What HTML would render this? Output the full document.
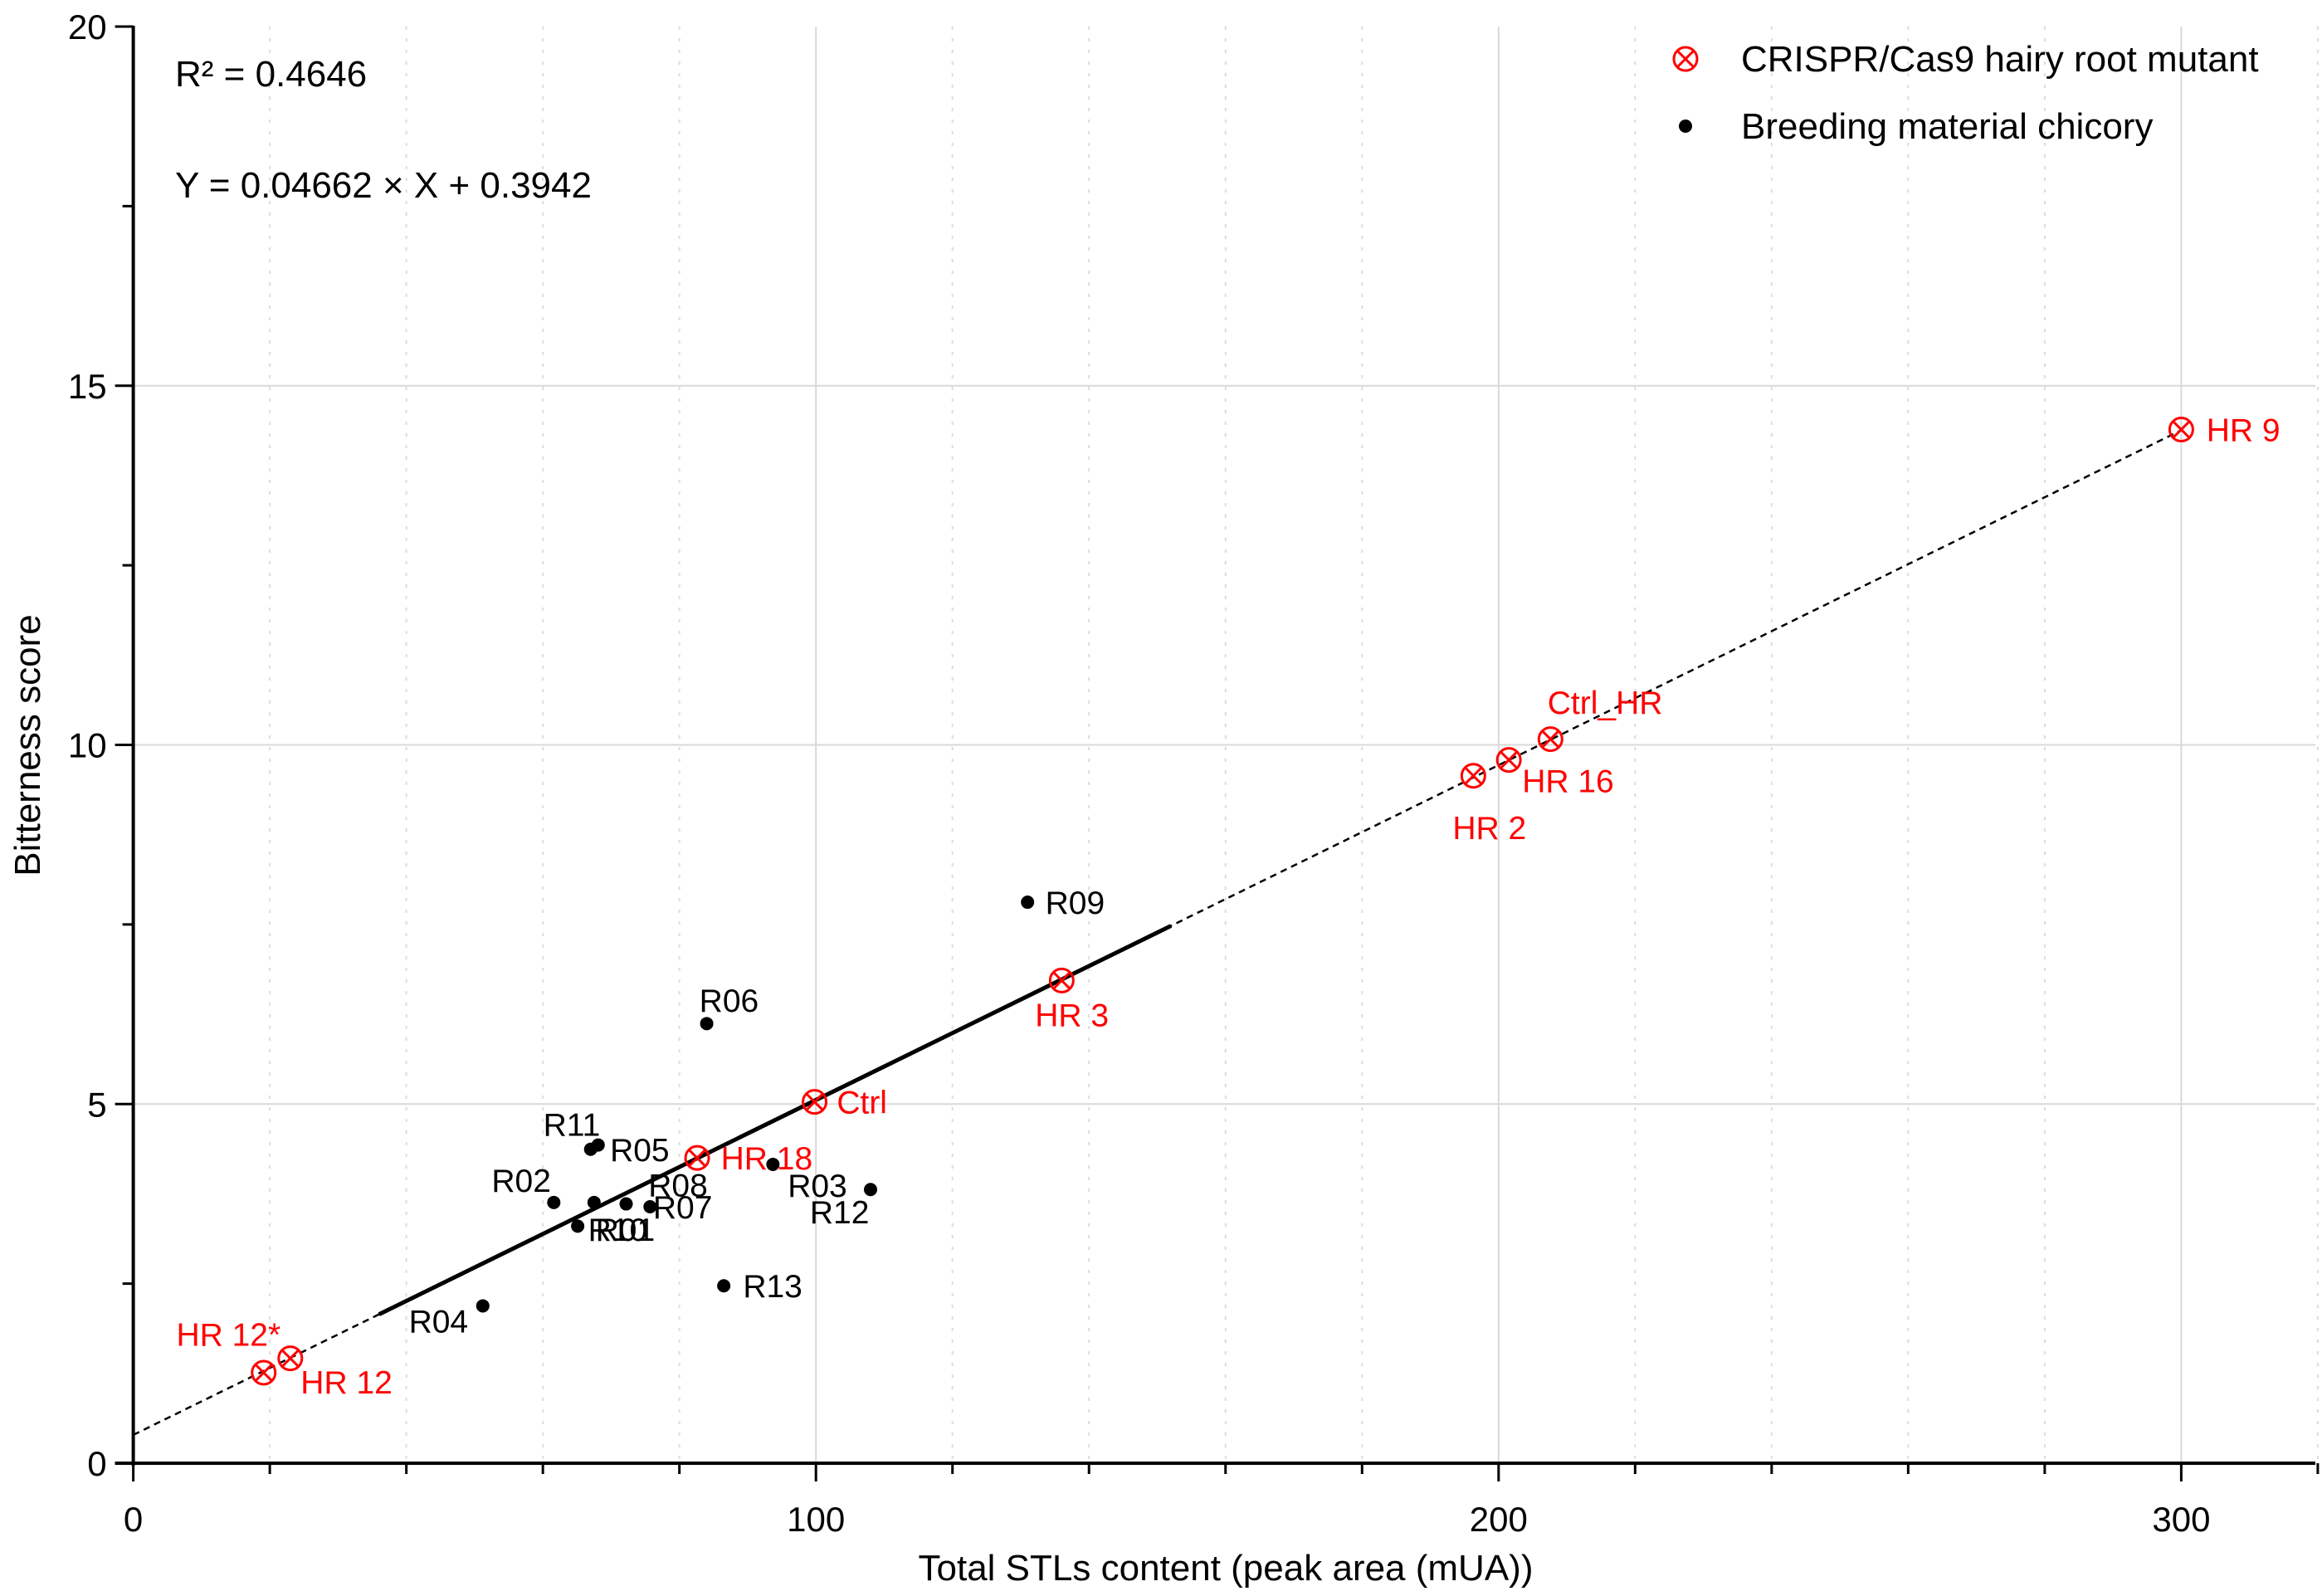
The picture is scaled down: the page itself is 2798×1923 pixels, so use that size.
<!DOCTYPE html>
<html><head><meta charset="utf-8"><style>
html,body{margin:0;padding:0;background:#fff;}
svg{display:block;font-family:"Liberation Sans",Arial,sans-serif;}
</style></head><body>
<svg id="chart" width="2798" height="1923" viewBox="0 0 2798 1923" xmlns="http://www.w3.org/2000/svg">
<g id="grid"></g>
<g id="axes"></g>
<g id="fit"></g>
<g id="marks"></g>
<text x="211" y="104" font-size="44">R² = 0.4646</text>
<text x="211" y="238" font-size="44">Y = 0.04662 × X + 0.3942</text>
<g>
 <g>
  <circle cx="2031" cy="71" r="14" fill="none" stroke="#ff0000" stroke-width="3"/>
  <line x1="2021" y1="61" x2="2041" y2="81" stroke="#ff0000" stroke-width="3"/>
  <line x1="2041" y1="61" x2="2021" y2="81" stroke="#ff0000" stroke-width="3"/>
  <text x="2098" y="86" font-size="44">CRISPR/Cas9 hairy root mutant</text>
 </g>
 <g>
  <circle cx="2031" cy="152" r="8" fill="#000"/>
  <text x="2098" y="167" font-size="44">Breeding material chicory</text>
 </g>
</g>
<text x="1477" y="1904" font-size="44" text-anchor="middle">Total STLs content (peak area (mUA))</text>
<text transform="translate(48,898) rotate(-90)" font-size="44" text-anchor="middle">Bitterness score</text>
</svg>
<script>
const hrNames=["HR 9","Ctrl_HR","HR 16","HR 2","HR 3","Ctrl","HR 18","HR 12*","HR 12"];
const hrX=[300,207.6,201.5,196.3,136,99.8,82.6,19.1,23];
const hrY=[14.39,10.08,9.79,9.57,6.72,5.03,4.25,1.26,1.46];
const brNames=["R09","R06","R11","R05","R02","R08","R07","R10","R01","R03","R12","R13","R04"];
const brX=[131,84,67,68.1,61.6,72.2,75.7,65.1,67.5,93.7,108,86.5,51.2];
const brY=[7.81,6.12,4.37,4.43,3.63,3.61,3.57,3.30,3.63,4.16,3.81,2.47,2.19];
const xTicks=[0,100,200,300];
const yTicks=[0,5,10,15,20];
const slope=0.04662, intercept=0.3942;
const fitSolidRange=[36,152];
const fitDashRange=[0,300];
// label offsets (reference display units)
const hrOff=[[17,0],[-2,-25],[9,14],[-14,35],[-18,23],[15,0],[16,0],[-59,-26],[7,16]];
const brOff=[[12,0],[-5,-16],[-32,-17],[8,3],[-42,-15],[15,-13],[2,0],[7,2],[1,18],[10,14],[-41,15],[13,0],[-50,10]];
const NS="http://www.w3.org/2000/svg";
const X0=160.6,XU=8.226,Y0=1763,YU=86.55,XMAX=2790,YTOP=32,K=1.784;
const sx=v=>X0+v*XU, sy=v=>Y0-v*YU;
function mk(tag,attrs,parent){const e=document.createElementNS(NS,tag);for(const k in attrs)e.setAttribute(k,attrs[k]);parent.appendChild(e);return e;}
const grid=document.getElementById('grid'),axes=document.getElementById('axes'),fit=document.getElementById('fit'),marks=document.getElementById('marks');
// x grid
for(let v=20;v<=320;v+=20){const major=v%100===0;
 const l=mk('line',{x1:sx(v),x2:sx(v),y1:YTOP,y2:Y0,stroke:major?'#d9d9d9':'#dcdcdc','stroke-width':major?2:2,'stroke-dasharray':major?'none':'4 10'},grid);
 }
for(const v of [5,10,15]){const l=mk('line',{x1:X0,x2:XMAX,y1:sy(v),y2:sy(v),stroke:'#d9d9d9','stroke-width':2},grid);
 }
// axes
let a=mk('line',{x1:X0,x2:X0,y1:YTOP-1,y2:Y0+3,stroke:'#000','stroke-width':4},axes);
a=mk('line',{x1:X0-22,x2:XMAX,y1:Y0,y2:Y0,stroke:'#000','stroke-width':4},axes);
for(let v=0;v<=320;v+=20){const major=v%100===0;const t=mk('line',{x1:sx(v),x2:sx(v),y1:Y0,y2:Y0+(major?22:13),stroke:'#000','stroke-width':3},axes);
 }
for(const v of xTicks){const t=mk('text',{x:sx(v),y:Y0+82,'font-size':42,'text-anchor':'middle'},axes);t.textContent=v;
 }
for(let v=0;v<=20;v+=2.5){const major=v%5===0;const t=mk('line',{x1:X0-(major?22:13),x2:X0,y1:sy(v),y2:sy(v),stroke:'#000','stroke-width':3},axes);
 }
for(const v of yTicks){const t=mk('text',{x:X0-32,y:sy(v)+15,'font-size':42,'text-anchor':'end'},axes);t.textContent=v;
 }
// fit
let f=mk('line',{x1:sx(fitDashRange[0]),y1:sy(intercept+slope*fitDashRange[0]),x2:sx(fitDashRange[1]),y2:sy(intercept+slope*fitDashRange[1]),stroke:'#000','stroke-width':2.5,'stroke-dasharray':'8 6'},fit);

f=mk('line',{x1:sx(fitSolidRange[0]),y1:sy(intercept+slope*fitSolidRange[0]),x2:sx(fitSolidRange[1]),y2:sy(intercept+slope*fitSolidRange[1]),stroke:'#000','stroke-width':5},fit);

// breeding points
brNames.forEach((n,i)=>{const cx=sx(brX[i]),cy=sy(brY[i]);
 const c=mk('circle',{cx:cx,cy:cy,r:8,fill:'#000'},marks);
 
 
 const t=mk('text',{x:cx+brOff[i][0]*K,y:cy+brOff[i][1]*K+14,'font-size':39,fill:'#000'},marks);t.textContent=n;
 
 });
// hairy root points
hrNames.forEach((n,i)=>{const cx=sx(hrX[i]),cy=sy(hrY[i]);
 const g=mk('g',{},marks);
 
 
 mk('circle',{cx:cx,cy:cy,r:14,fill:'none',stroke:'#ff0000','stroke-width':3},g);
 mk('line',{x1:cx-10,y1:cy-10,x2:cx+10,y2:cy+10,stroke:'#ff0000','stroke-width':3},g);
 mk('line',{x1:cx+10,y1:cy-10,x2:cx-10,y2:cy+10,stroke:'#ff0000','stroke-width':3},g);
 const t=mk('text',{x:cx+hrOff[i][0]*K,y:cy+hrOff[i][1]*K+14,'font-size':39,fill:'#ff0000'},marks);t.textContent=n;
 
 });
</script>
</body></html>
